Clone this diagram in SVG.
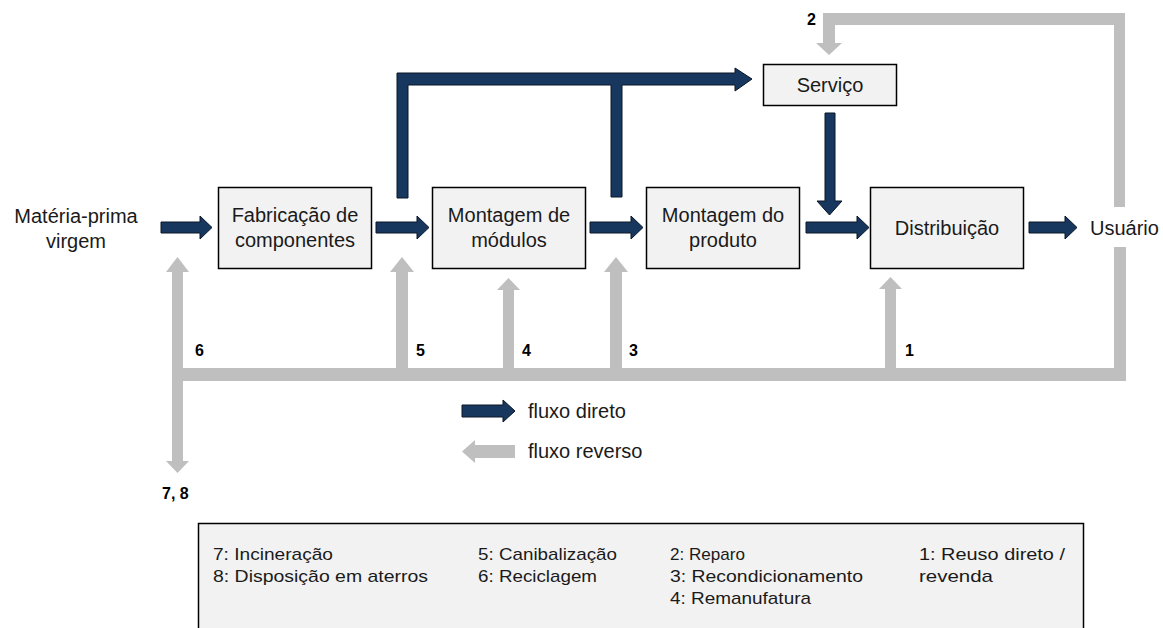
<svg xmlns="http://www.w3.org/2000/svg" width="1163" height="628" viewBox="0 0 1163 628">
<style>
.box{fill:#f2f2f2;stroke:#000;stroke-width:1.5}
.t{font-family:"Liberation Sans",Arial,sans-serif;font-size:20px;fill:#1a1a1a}
.n{font-family:"Liberation Sans",Arial,sans-serif;font-size:16px;font-weight:bold;fill:#000}
.lg{font-family:"Liberation Sans",Arial,sans-serif;font-size:17px;fill:#1a1a1a}
.dk{fill:#17375e;stroke:#0a1626;stroke-width:1}
.gr{fill:#bfbfbf}
</style>
<rect width="1163" height="628" fill="#fff"/>

<g id="connectors">
  <!-- dark direct arrows -->
  <polygon class="dk" points="161,222 200,222 200,216 212,227.5 200,239 200,233 161,233"/>
  <polygon class="dk" points="376,222 417,222 417,216 429,227.5 417,239 417,233 376,233"/>
  <polygon class="dk" points="590,222 631,222 631,216 643,227.5 631,239 631,233 590,233"/>
  <polygon class="dk" points="806,222 857,222 857,216 869,227.5 857,239 857,233 806,233"/>
  <polygon class="dk" points="1029,222 1065,222 1065,216 1077,227.5 1065,239 1065,233 1029,233"/>
  <!-- top dark path to Serviço -->
  <polygon class="dk" points="397,198 397,73 735,73 735,68 752,79 735,91 735,85 622,85 622,197 611,197 611,85 408,85 408,198"/>
  <!-- Serviço down -->
  <polygon class="dk" points="825,113 835,113 835,201 842,201 829.5,215 817,201 825,201"/>

  <!-- grey reverse flows -->
  <!-- top loop 2 -->
  <polygon class="gr" points="1114,207 1114,25 835,25 835,43 842,43 829,55 816,43 823,43 823,13 1125,13 1125,207"/>
  <!-- bottom collector -->
  <polygon class="gr" points="1114,247 1126,247 1126,381 172,381 172,368 1114,368"/>
  <!-- 6 / 7,8 double arrow -->
  <polygon class="gr" points="177.5,257 189,272 183,272 183,461 189,461 177.5,473 166,461 172,461 172,272 166,272"/>
  <!-- 5 -->
  <polygon class="gr" points="402,257 414,272 408,272 408,370 396,370 396,272 390,272"/>
  <!-- 4 -->
  <polygon class="gr" points="508.5,278 520,290 514,290 514,370 503,370 503,290 497,290"/>
  <!-- 3 -->
  <polygon class="gr" points="616,257 628,272 622,272 622,370 610,370 610,272 604,272"/>
  <!-- 1 -->
  <polygon class="gr" points="890.5,277 902,289 896,289 896,370 885,370 885,289 879,289"/>
</g>

<g id="labels">
  <text class="n" x="807" y="25">2</text>
  <text class="n" x="195" y="356">6</text>
  <text class="n" x="416" y="356">5</text>
  <text class="n" x="522" y="356">4</text>
  <text class="n" x="629" y="356">3</text>
  <text class="n" x="905" y="356">1</text>
  <text class="n" x="162" y="499">7, 8</text>
</g>

<g id="materia">
  <text class="t" x="76" y="223" text-anchor="middle">Matéria-prima</text>
  <text class="t" x="76" y="248" text-anchor="middle">virgem</text>
</g>
<g id="fabricacao">
  <rect class="box" x="218.5" y="187.5" width="153" height="81"/>
  <text class="t" x="295" y="222" text-anchor="middle">Fabricação de</text>
  <text class="t" x="295" y="247" text-anchor="middle">componentes</text>
</g>
<g id="montagem-modulos">
  <rect class="box" x="432.5" y="187.5" width="153" height="81"/>
  <text class="t" x="509" y="222" text-anchor="middle">Montagem de</text>
  <text class="t" x="509" y="247" text-anchor="middle">módulos</text>
</g>
<g id="montagem-produto">
  <rect class="box" x="646.5" y="187.5" width="153" height="81"/>
  <text class="t" x="723" y="222" text-anchor="middle">Montagem do</text>
  <text class="t" x="723" y="247" text-anchor="middle">produto</text>
</g>
<g id="distribuicao">
  <rect class="box" x="870.5" y="187.5" width="153" height="81"/>
  <text class="t" x="947" y="235" text-anchor="middle">Distribuição</text>
</g>
<g id="servico">
  <rect class="box" x="763.5" y="64.5" width="133" height="41"/>
  <text class="t" x="830" y="92" text-anchor="middle">Serviço</text>
</g>
<g id="usuario">
  <text class="t" x="1090" y="235">Usuário</text>
</g>

<g id="legend-flow">
  <polygon class="dk" points="462,405 503,405 503,400 515,411 503,422 503,417 462,417"/>
  <text class="t" x="528" y="418">fluxo direto</text>
  <polygon class="gr" points="462,451.5 475,440 475,445 515,445 515,458 475,458 475,463"/>
  <text class="t" x="528" y="458">fluxo reverso</text>
</g>

<g id="legend-box">
  <rect x="198.5" y="523.5" width="885" height="130" fill="#f2f2f2" stroke="#000" stroke-width="1.5"/>
  <text class="lg" x="213" y="560" textLength="120" lengthAdjust="spacingAndGlyphs">7: Incineração</text>
  <text class="lg" x="213" y="582" textLength="215" lengthAdjust="spacingAndGlyphs">8: Disposição em aterros</text>
  <text class="lg" x="478" y="560" textLength="139" lengthAdjust="spacingAndGlyphs">5: Canibalização</text>
  <text class="lg" x="478" y="582" textLength="119" lengthAdjust="spacingAndGlyphs">6: Reciclagem</text>
  <text class="lg" x="670" y="560" textLength="75" lengthAdjust="spacingAndGlyphs">2: Reparo</text>
  <text class="lg" x="670" y="582" textLength="193" lengthAdjust="spacingAndGlyphs">3: Recondicionamento</text>
  <text class="lg" x="670" y="604" textLength="141" lengthAdjust="spacingAndGlyphs">4: Remanufatura</text>
  <text class="lg" x="919" y="560" textLength="146" lengthAdjust="spacingAndGlyphs">1: Reuso direto /</text>
  <text class="lg" x="919" y="582" textLength="74" lengthAdjust="spacingAndGlyphs">revenda</text>
</g>
</svg>
